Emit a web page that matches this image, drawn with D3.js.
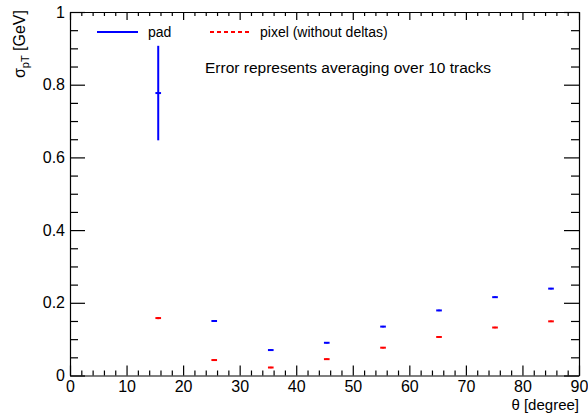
<!DOCTYPE html>
<html>
<head>
<meta charset="utf-8">
<script src="https://cdn.jsdelivr.net/npm/d3@7"></script>
<style>
  body { margin: 0; background: #fff; }
  #chart { width: 588px; height: 413px; }
  text { font-family: "Liberation Sans", Arial, Helvetica, sans-serif; fill: #000; }
</style>
</head>
<body>
<div id="chart"></div>
<script>
// sigma_pT vs theta, pad vs pixel
const theta = [15.6, 25.5, 35.5, 45.4, 55.35, 65.25, 75.15, 85.05];
const padSigma = [0.777, 0.150, 0.070, 0.090, 0.1345, 0.179, 0.2155, 0.239];
const padErr = [0.13, 0.002, 0.002, 0.002, 0.002, 0.002, 0.002, 0.002];
const pixelSigma = [0.158, 0.0425, 0.022, 0.045, 0.0765, 0.106, 0.132, 0.149];
const pixelErr = [0.003, 0.002, 0.002, 0.002, 0.002, 0.002, 0.002, 0.002];
const xErr = 0.5;
const xTicks = [0, 10, 20, 30, 40, 50, 60, 70, 80, 90];
const yTicks = [0, 0.2, 0.4, 0.6, 0.8, 1];

const W = 588, H = 413;
const M = {t: 12, r: 9, b: 37.5, l: 70};

const svg = d3.select('#chart').append('svg').attr('width', W).attr('height', H);

const x = d3.scaleLinear().domain([0, 90]).range([M.l, W - M.r]);
const y = d3.scaleLinear().domain([0, 1]).range([H - M.b, M.t]);

const xMinor = d3.range(0, 90.001, 2).filter(v => v % 10 !== 0);
const yMinor = d3.range(0, 1.0001, 0.05).map(v => +v.toFixed(2)).filter(v => Math.round(v * 100) % 20 !== 0);

// bottom axis (ticks inside)
svg.append('g')
  .attr('transform', `translate(0,${y(0)})`)
  .call(d3.axisBottom(x).tickValues(xTicks).tickFormat(d3.format('d'))
    .tickSizeInner(-10).tickSizeOuter(0).tickPadding(5))
  .call(g => g.selectAll('text').attr('font-size', 16).attr('font-family', '"Liberation Sans", Arial, sans-serif'));
svg.append('g')
  .attr('transform', `translate(0,${y(0)})`)
  .call(d3.axisBottom(x).tickValues(xMinor).tickFormat('').tickSizeInner(-5).tickSizeOuter(0))
  .call(g => g.select('.domain').remove());

// top axis
svg.append('g')
  .attr('transform', `translate(0,${y(1)})`)
  .call(d3.axisTop(x).tickValues(xTicks).tickFormat('').tickSizeInner(-8).tickSizeOuter(0));
svg.append('g')
  .attr('transform', `translate(0,${y(1)})`)
  .call(d3.axisTop(x).tickValues(xMinor).tickFormat('').tickSizeInner(-4).tickSizeOuter(0))
  .call(g => g.select('.domain').remove());

// left axis
svg.append('g')
  .attr('transform', `translate(${x(0)},0)`)
  .call(d3.axisLeft(y).tickValues(yTicks).tickFormat(d => d === 0 || d === 1 ? d3.format('d')(d) : d3.format('.1f')(d))
    .tickSizeInner(-15).tickSizeOuter(0).tickPadding(5))
  .call(g => g.selectAll('text').attr('font-size', 16).attr('font-family', '"Liberation Sans", Arial, sans-serif'));
svg.append('g')
  .attr('transform', `translate(${x(0)},0)`)
  .call(d3.axisLeft(y).tickValues(yMinor).tickFormat('').tickSizeInner(-8).tickSizeOuter(0))
  .call(g => g.select('.domain').remove());

// right axis
svg.append('g')
  .attr('transform', `translate(${x(90)},0)`)
  .call(d3.axisRight(y).tickValues(yTicks).tickFormat('').tickSizeInner(-15).tickSizeOuter(0));
svg.append('g')
  .attr('transform', `translate(${x(90)},0)`)
  .call(d3.axisRight(y).tickValues(yMinor).tickFormat('').tickSizeInner(-8).tickSizeOuter(0))
  .call(g => g.select('.domain').remove());

svg.selectAll('.domain, .tick line').attr('stroke', '#000').attr('stroke-width', 1.2);

// error-bar points
function drawSeries(vals, errs, color) {
  const pts = theta.map((t, i) => ({t, v: vals[i], e: errs[i]}));
  const g = svg.append('g');
  g.selectAll('line.h').data(pts).enter().append('line')
    .attr('x1', d => x(d.t - xErr)).attr('x2', d => x(d.t + xErr))
    .attr('y1', d => y(d.v)).attr('y2', d => y(d.v))
    .attr('stroke', color).attr('stroke-width', 2);
  g.selectAll('line.v').data(pts).enter().append('line')
    .attr('x1', d => x(d.t)).attr('x2', d => x(d.t))
    .attr('y1', d => y(d.v - d.e)).attr('y2', d => y(d.v + d.e))
    .attr('stroke', color).attr('stroke-width', 2);
}
drawSeries(pixelSigma, pixelErr, '#ff0000');
drawSeries(padSigma, padErr, '#0000ff');

// legend
svg.append('line').attr('x1', 97).attr('x2', 138).attr('y1', 32).attr('y2', 32)
  .attr('stroke', '#0000ff').attr('stroke-width', 2);
svg.append('text').attr('x', 148).attr('y', 36.5).attr('font-size', 14).text('pad');
svg.append('line').attr('x1', 210).attr('x2', 252).attr('y1', 32).attr('y2', 32)
  .attr('stroke', '#ff0000').attr('stroke-width', 2).attr('stroke-dasharray', '4,3');
svg.append('text').attr('x', 260).attr('y', 36.5).attr('font-size', 14).text('pixel (without deltas)');

svg.append('text').attr('x', 205).attr('y', 73).attr('font-size', 15.5)
  .text('Error represents averaging over 10 tracks');

// axis titles
svg.append('text').attr('x', x(90)).attr('y', 410).attr('text-anchor', 'end')
  .attr('font-size', 15).text('θ [degree]');

const yt = svg.append('text')
  .attr('transform', `translate(25,${M.t - 2}) rotate(-90)`)
  .attr('text-anchor', 'end').attr('font-size', 16);
yt.append('tspan').text('σ');
yt.append('tspan').attr('font-size', 11).attr('dy', 4).text('pT');
yt.append('tspan').attr('dy', -4).text(' [GeV]');
</script>
</body>
</html>
